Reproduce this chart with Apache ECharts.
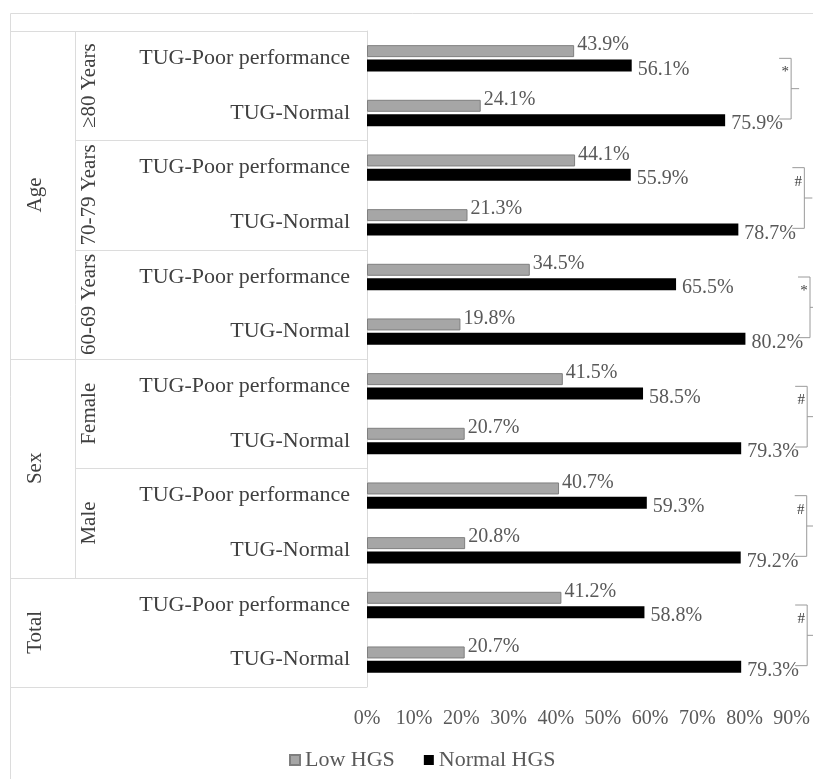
<!DOCTYPE html>
<html><head><meta charset="utf-8">
<script src="https://cdn.jsdelivr.net/npm/echarts@6/dist/echarts.min.js"></script>
<style>html,body{margin:0;padding:0;background:#fff}#c{width:813px;height:779px}</style>
</head><body><div id="c"></div>
<script>
const categories = [
  '≥80 Years · TUG-Poor performance', '≥80 Years · TUG-Normal',
  '70-79 Years · TUG-Poor performance', '70-79 Years · TUG-Normal',
  '60-69 Years · TUG-Poor performance', '60-69 Years · TUG-Normal',
  'Female · TUG-Poor performance', 'Female · TUG-Normal',
  'Male · TUG-Poor performance', 'Male · TUG-Normal',
  'Total · TUG-Poor performance', 'Total · TUG-Normal'
];
const seriesNames = ['Low HGS', 'Normal HGS'];
const lowHGS    = [43.9, 24.1, 44.1, 21.3, 34.5, 19.8, 41.5, 20.7, 40.7, 20.8, 41.2, 20.7];
const normalHGS = [56.1, 75.9, 55.9, 78.7, 65.5, 80.2, 58.5, 79.3, 59.3, 79.2, 58.8, 79.3];
const xTicks = [0, 10, 20, 30, 40, 50, 60, 70, 80, 90];
const level1Names = ['Age', 'Sex', 'Total'];
const level1Spans = [6, 4, 2];
const level2Names = ['≥80 Years', '70-79 Years', '60-69 Years', 'Female', 'Male', ''];
const level2Spans = [2, 2, 2, 2, 2, 2];
const sigMarks = ['*', '#', '*', '#', '#', '#'];

(function () {
const FONT = '"Liberation Serif", "Times New Roman", serif';
const chart = echarts.init(document.getElementById('c'));
const labelStyle = {fontFamily: FONT, fontSize: 20, color: '#595959'};

chart.setOption({
  animation: false,
  backgroundColor: '#fff',
  grid: {left: 367, right: 19, top: 31, bottom: 92},
  xAxis: {
    type: 'value', min: xTicks[0], max: xTicks[xTicks.length - 1], interval: xTicks[1] - xTicks[0],
    axisLabel: {formatter: '{value}%', fontFamily: FONT, fontSize: 20, color: '#595959', margin: 22},
    axisLine: {show: false}, axisTick: {show: false}, splitLine: {show: false}
  },
  yAxis: {
    type: 'category', inverse: true, data: categories,
    axisLabel: {formatter: v => v.split(' · ')[1], fontFamily: FONT, fontSize: 22, color: '#404040', margin: 17},
    axisTick: {show: false},
    axisLine: {lineStyle: {color: '#d9d9d9'}}
  },
  legend: {
    data: seriesNames, left: 284, top: 744, icon: 'rect', itemWidth: 10, itemHeight: 10, itemGap: 29,
    textStyle: {fontFamily: FONT, fontSize: 22, color: '#595959'}
  },
  series: [
    {
      name: seriesNames[0], type: 'bar', data: lowHGS, barWidth: 12, barGap: '20%',
      itemStyle: {color: '#a6a6a6', borderColor: '#7f7f7f', borderWidth: 1},
      label: Object.assign({show: true, position: 'right', distance: 3, offset: [0, -6],
        formatter: p => p.value.toFixed(1) + '%'}, labelStyle)
    },
    {
      name: seriesNames[1], type: 'bar', data: normalHGS, barWidth: 12, barGap: '20%',
      itemStyle: {color: '#000'},
      label: Object.assign({show: true, position: 'right', distance: 6, offset: [0, 4],
        formatter: p => p.value.toFixed(1) + '%'}, labelStyle)
    }
  ]
});

const c0 = chart.convertToPixel({yAxisIndex: 0}, 0);
const c1 = chart.convertToPixel({yAxisIndex: 0}, 1);
const band = c1 - c0;
const plotTop = c0 - band / 2;
const plotBottom = plotTop + band * categories.length;
const gridLeft = chart.convertToPixel({xAxisIndex: 0}, 0);
const edge = (i) => plotTop + band * i;
const lineColor = '#dcdcdc';
const g = [];
const line = (x1, y1, x2, y2) => g.push({type: 'line', shape: {x1, y1, x2, y2}, style: {stroke: lineColor, lineWidth: 1}, silent: true});

g.push({type: 'rect', shape: {x: 10.5, y: 13.5, width: 840, height: 800}, style: {fill: 'none', stroke: lineColor, lineWidth: 1}, silent: true});
line(10, Math.round(plotTop) + 0.5, gridLeft, Math.round(plotTop) + 0.5);
line(10, Math.round(plotBottom) + 0.5, gridLeft, Math.round(plotBottom) + 0.5);

const level1Edges = [];
let acc = 0;
level1Spans.forEach(s => { acc += s; level1Edges.push(acc); });

const col2X = 75;
let idx = 0;
level1Names.forEach((name, k) => {
  const y0 = edge(idx), y1 = edge(idx + level1Spans[k]);
  if (k > 0) line(10, Math.round(y0) + 0.5, gridLeft, Math.round(y0) + 0.5);
  g.push({type: 'text', x: 35, y: (y0 + y1) / 2, rotation: Math.PI / 2,
    style: {text: name, fontFamily: FONT, fontSize: 21, fill: '#404040', align: 'center', verticalAlign: 'middle'}, silent: true});
  idx += level1Spans[k];
});
idx = 0;
let lastSub = 0;
level2Names.forEach((name, k) => {
  const y0 = edge(idx), y1 = edge(idx + level2Spans[k]);
  if (name) {
    if (k > 0 && !level1Edges.includes(idx)) {
      line(col2X, Math.round(y0) + 0.5, gridLeft, Math.round(y0) + 0.5);
    }
    g.push({type: 'text', x: 89, y: (y0 + y1) / 2, rotation: Math.PI / 2,
      style: {text: name, fontFamily: FONT, fontSize: 21, fill: '#404040', align: 'center', verticalAlign: 'middle'}, silent: true});
    lastSub = y1;
  }
  const r0 = idx, r1 = idx + 1;
  const yT = chart.convertToPixel({yAxisIndex: 0}, r0);
  const yB = chart.convertToPixel({yAxisIndex: 0}, r1) + 6;
  const maxV = Math.max(normalHGS[r0], normalHGS[r1]);
  const xb = Math.min(chart.convertToPixel({xAxisIndex: 0}, maxV) + 66, 810);
  g.push({type: 'polyline', shape: {points: [[xb - 12, yT], [xb, yT], [xb, yB], [xb - 12, yB]]},
    style: {stroke: '#9a9a9a', lineWidth: 1, fill: 'none'}, silent: true});
  g.push({type: 'line', shape: {x1: xb, y1: (yT + yB) / 2, x2: xb + 8, y2: (yT + yB) / 2},
    style: {stroke: '#9a9a9a', lineWidth: 1}, silent: true});
  g.push({type: 'text', x: xb - 6, y: yT + 14,
    style: {text: sigMarks[k], fontFamily: FONT, fontSize: 15, fill: '#404040', align: 'center', verticalAlign: 'middle'}, silent: true});
  idx += level2Spans[k];
});
line(col2X + 0.5, Math.round(plotTop), col2X + 0.5, Math.round(lastSub));

chart.setOption({graphic: g});
})();
</script>
</body></html>
